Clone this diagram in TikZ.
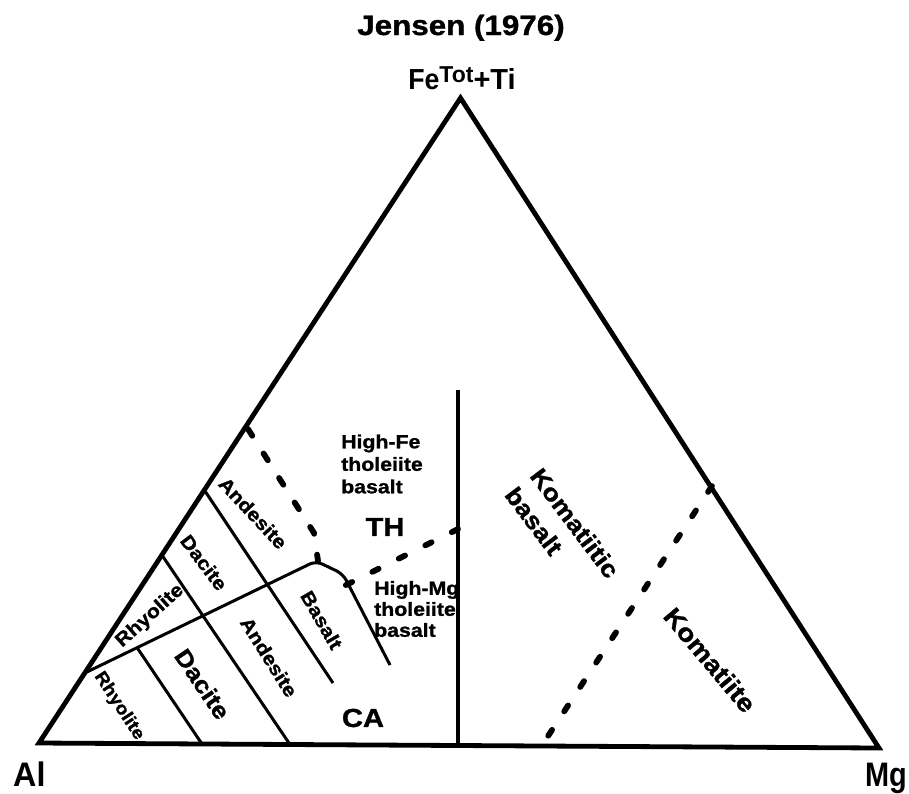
\documentclass[tikz,border=0pt]{standalone}
\usepackage{fontspec}
\usepackage{graphicx}
\setmainfont{Liberation Sans}
\newfontfamily\widesans[FakeStretch=1.12, BoldFeatures={FakeBold=1.2}]{Liberation Sans}
\usetikzlibrary{calc}
\begin{document}
\begin{tikzpicture}[x=1pt,y=-1pt,
  frame/.style={line width=4.8pt, line join=miter},
  divline/.style={line width=3pt},
  vline/.style={line width=3.8pt},
  dotline/.style={line width=5.8pt, line cap=round},
  lab/.style={font=\widesans\bfseries\fontsize{19}{22.5}\selectfont, inner sep=0pt, align=left},
  labmid/.style={font=\widesans\bfseries\fontsize{23.5}{26}\selectfont, inner sep=0pt},
  labbig/.style={font=\widesans\bfseries\fontsize{25}{28}\selectfont, inner sep=0pt},
  region/.style={font=\widesans\bfseries\fontsize{26}{28}\selectfont, inner sep=0pt},
  corner/.style={font=\bfseries\fontsize{34}{34}\selectfont, inner sep=0pt},
]
\fill[white] (0,0) rectangle (909,793);
\useasboundingbox (0,0) rectangle (909,793);

% vertices
\coordinate (Al) at (39,743);
\coordinate (Mg) at (879,748);
\coordinate (Top) at (460.5,98);

% title and vertex labels
\node[font=\widesans\bfseries\fontsize{28}{28}\selectfont, anchor=base, inner sep=0pt] (title) at (461,35) {Jensen (1976)};
\node[font=\bfseries\fontsize{29}{29}\selectfont, anchor=base, inner sep=0pt] (fe) at (462,89) {\scalebox{0.92}[1]{Fe}\raisebox{6.5pt}{\fontsize{23}{23}\selectfont Tot}+Ti};
\node[corner, anchor=base west] (al) at (13,786) {\scalebox{0.95}[1]{Al}};
\node[corner, anchor=base east] (mg) at (907,786) {\scalebox{0.85}[1]{Mg}};

% points
\coordinate (A1) at ($(Al)!0.3922!(Top)$);
\coordinate (A2) at (333,683);
\coordinate (B1) at ($(Al)!0.2915!(Top)$);
\coordinate (B2) at (290,744.5);
\coordinate (C1) at (137,647.5);
\coordinate (C2) at (202,744);
\coordinate (T1) at ($(Al)!0.1085!(Top)$);
\coordinate (T2) at (316,561);
\coordinate (T3) at (343,574);
\coordinate (T4) at (390,665);
\coordinate (V1) at (457.7,390);
\coordinate (V2) at (457.7,745.5);
\coordinate (U1) at (248,429);
\coordinate (U2) at (314,533);
\coordinate (U3) at (318,561);
\coordinate (M1) at (349,583.5);
\coordinate (M2) at (455,530.5);
\coordinate (R1) at (710,489);
\coordinate (R2) at (550,733);

% solid dividers
\draw[divline] (A1) -- (A2);
\draw[divline] (B1) -- (B2);
\draw[divline] (C1) -- (C2);
\draw[divline, rounded corners=7pt] (T1) -- (T2) -- (T3) -- (T4);
\draw[vline] (V1) -- (V2);

% dashed boundaries
\draw[dotline, dash pattern=on 8pt off 21pt] (U1) -- (U2) -- (U3);
\draw[dotline, dash pattern=on 7pt off 22.6pt] ($(M1)!-3.5pt!(M2)$) -- ($(M2)!-3.5pt!(M1)$);
\draw[dotline, dash pattern=on 7pt off 22.15pt] ($(R1)!-3.5pt!(R2)$) -- ($(R2)!-3.5pt!(R1)$);

% triangle
\draw[frame] (Al) -- (Top) -- (Mg) -- cycle;

% labels
\node[lab, rotate=42] (rhyU) at (150,616) {Rhyolite};
\node[lab, font=\widesans\bfseries\fontsize{17.5}{20}\selectfont, rotate=-57] (rhyL) at (119,706) {Rhyolite};
\node[lab, rotate=-53] (dacU) at (204,562.5) {Dacite};
\node[labmid, rotate=-56] (dacL) at (202.5,684) {Dacite};
\node[lab, rotate=-47] (andU) at (253,513) {Andesite};
\node[lab, rotate=-58] (andL) at (269,657) {Andesite};
\node[lab, rotate=-60] (bas) at (321.7,620) {Basalt};
\node[lab, anchor=west] (hife) at (341,464) {High-Fe\\tholeiite\\basalt};
\node[lab, anchor=west, font=\widesans\bfseries\fontsize{19}{21}\selectfont] (himg) at (374,609) {High-Mg\\tholeiite\\basalt};
\node[region] (th) at (385,527) {TH};
\node[region] (ca) at (363,718) {CA};
\node[labbig, font=\widesans\bfseries\fontsize{24}{26}\selectfont, rotate=-53] (kom1) at (575,523) {Komatiitic};
\node[labbig, font=\widesans\bfseries\fontsize{24}{26}\selectfont, rotate=-53] (kom2) at (534,521) {basalt};
\node[labbig, rotate=-50] (kom) at (710,660) {Komatiite};
\end{tikzpicture}
\end{document}
